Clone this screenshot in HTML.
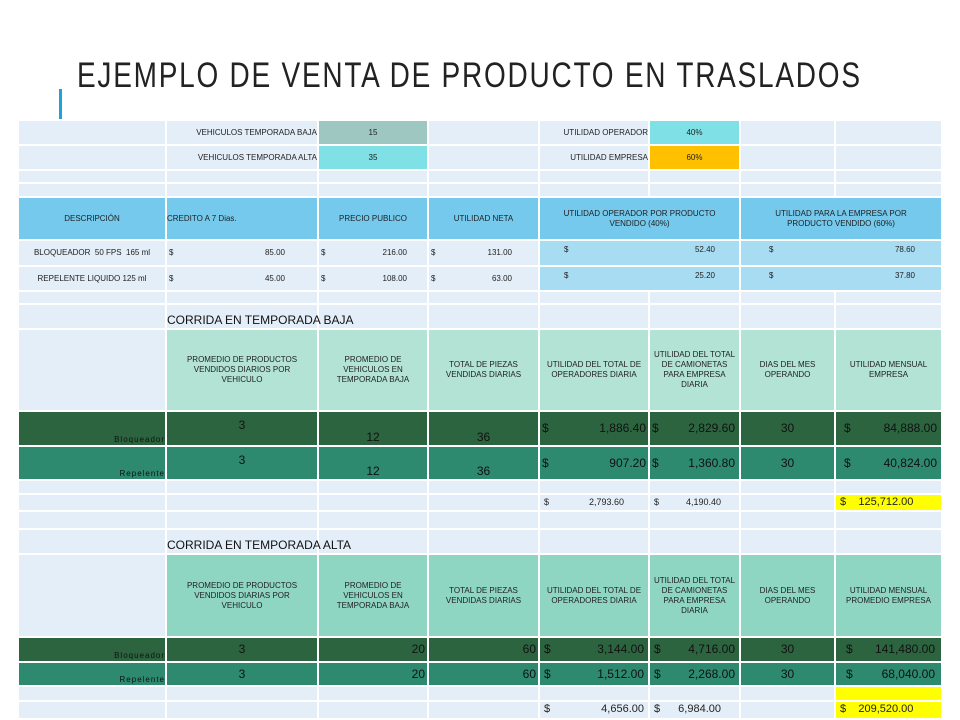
<!DOCTYPE html>
<html><head><meta charset="utf-8"><style>
*{box-sizing:border-box;margin:0;padding:0}
body{width:960px;height:720px;background:#fff;position:relative;overflow:hidden;font-family:"Liberation Sans",sans-serif}
#title{position:absolute;left:77px;top:56px;font-size:35px;letter-spacing:2.2px;color:#222;white-space:nowrap;transform:scaleX(0.8);transform-origin:left top}
#accent{position:absolute;left:59px;top:89px;width:3px;height:30px;background:#1ea3d9}
#sheet{position:absolute;left:19px;top:121px;width:922px;height:597px;background:#e4eef8}
#lines{position:absolute;left:0;top:0}
#grid{position:absolute;left:0;top:0;display:grid;gap:2px;
grid-template-columns:146px 150px 108px 109px 108px 89px 93px 105px;
grid-template-rows:23px 23px 11px 12px 41px 24px 23px 11px 23px 80px 33px 32px 12px 15px 16px 23px 81px 23px 22px 13px 16px}
.c{display:flex;align-items:center;justify-content:center;text-align:center;font-size:8px;color:#222;line-height:1.25;overflow:hidden;white-space:nowrap}
.r{justify-content:flex-end}
.w{white-space:normal}
.m{justify-content:space-between;padding:0 6px 0 2px}
.h1{background:#75c9ec}
.pb{background:#a8dcf2;align-items:flex-start;padding-top:4px}
.mint{background:#b2e3d5}
.mint2{background:#8ed6c1}
.dg{background:#2d6440;color:#111;font-size:12px}
.mg{background:#2e8a6f;color:#111;font-size:12px}
.yl{background:#ffff00}
.lbl{font-size:8px;align-items:flex-end;justify-content:flex-end;letter-spacing:1px}
.big{font-size:12px;color:#111;justify-content:flex-start;align-items:flex-end;padding-left:0}
</style></head><body>
<div id="title">EJEMPLO DE VENTA DE PRODUCTO EN TRASLADOS</div>
<div id="accent"></div>
<div id="sheet">
<svg id="lines" width="922" height="597"></svg>
<div id="grid">
<div class="c r" style="grid-area:1/2">VEHICULOS TEMPORADA BAJA</div>
<div class="c" style="grid-area:1/3;background:#9fc7c1">15</div>
<div class="c r" style="grid-area:1/5">UTILIDAD OPERADOR</div>
<div class="c" style="grid-area:1/6;background:#7fe0e6">40%</div>
<div class="c r" style="grid-area:2/2">VEHICULOS TEMPORADA ALTA</div>
<div class="c" style="grid-area:2/3;background:#7fe0e6">35</div>
<div class="c r" style="grid-area:2/5">UTILIDAD EMPRESA</div>
<div class="c" style="grid-area:2/6;background:#ffc000">60%</div>

<div class="c h1" style="grid-area:5/1">DESCRIPCIÓN</div>
<div class="c h1" style="grid-area:5/2;justify-content:flex-start">CREDITO A 7 Dias.</div>
<div class="c h1" style="grid-area:5/3">PRECIO PUBLICO</div>
<div class="c h1" style="grid-area:5/4">UTILIDAD NETA</div>
<div class="c h1 w" style="grid-area:5/5/6/7;padding:0 20px">UTILIDAD OPERADOR POR PRODUCTO VENDIDO (40%)</div>
<div class="c h1 w" style="grid-area:5/7/6/9;padding:0 20px">UTILIDAD PARA LA EMPRESA POR PRODUCTO VENDIDO (60%)</div>

<div class="c" style="grid-area:6/1">BLOQUEADOR&nbsp; 50 FPS&nbsp; 165 ml</div>
<div class="c m" style="grid-area:6/2;padding-right:32px"><span>$</span><span>85.00</span></div>
<div class="c m" style="grid-area:6/3;padding-right:20px"><span>$</span><span>216.00</span></div>
<div class="c m" style="grid-area:6/4;padding-right:26px"><span>$</span><span>131.00</span></div>
<div class="c m pb" style="grid-area:6/5/7/7;padding:4px 24px 0 24px"><span>$</span><span>52.40</span></div>
<div class="c m pb" style="grid-area:6/7/7/9;padding:4px 26px 0 28px"><span>$</span><span>78.60</span></div>
<div class="c" style="grid-area:7/1">REPELENTE LIQUIDO 125 ml</div>
<div class="c m" style="grid-area:7/2;padding-right:32px"><span>$</span><span>45.00</span></div>
<div class="c m" style="grid-area:7/3;padding-right:20px"><span>$</span><span>108.00</span></div>
<div class="c m" style="grid-area:7/4;padding-right:26px"><span>$</span><span>63.00</span></div>
<div class="c m pb" style="grid-area:7/5/8/7;padding:4px 24px 0 24px"><span>$</span><span>25.20</span></div>
<div class="c m pb" style="grid-area:7/7/8/9;padding:4px 26px 0 28px"><span>$</span><span>37.80</span></div>

<div class="c big" style="grid-area:9/2/10/5">CORRIDA EN TEMPORADA BAJA</div>
<div class="c mint w" style="grid-area:10/2;padding:0 12px">PROMEDIO DE PRODUCTOS VENDIDOS DIARIOS POR VEHICULO</div>
<div class="c mint w" style="grid-area:10/3;padding:0 8px">PROMEDIO DE VEHICULOS EN TEMPORADA BAJA</div>
<div class="c mint w" style="grid-area:10/4;padding:0 10px">TOTAL DE PIEZAS VENDIDAS DIARIAS</div>
<div class="c mint w" style="grid-area:10/5">UTILIDAD DEL TOTAL DE OPERADORES DIARIA</div>
<div class="c mint w" style="grid-area:10/6">UTILIDAD DEL TOTAL DE CAMIONETAS PARA EMPRESA DIARIA</div>
<div class="c mint w" style="grid-area:10/7;padding:0 14px">DIAS DEL MES OPERANDO</div>
<div class="c mint w" style="grid-area:10/8;padding:0 6px">UTILIDAD MENSUAL EMPRESA</div>

<div class="c dg lbl" style="grid-area:11/1">Bloqueador</div>
<div class="c dg" style="grid-area:11/2;align-items:flex-start;padding-top:6px">3</div>
<div class="c dg" style="grid-area:11/3;align-items:flex-end">12</div>
<div class="c dg" style="grid-area:11/4;align-items:flex-end">36</div>
<div class="c dg m" style="grid-area:11/5;padding-right:2px"><span>$</span><span>1,886.40</span></div>
<div class="c dg m" style="grid-area:11/6;padding-right:4px"><span>$</span><span>2,829.60</span></div>
<div class="c dg" style="grid-area:11/7">30</div>
<div class="c dg m" style="grid-area:11/8;padding:0 4px 0 8px"><span>$</span><span>84,888.00</span></div>
<div class="c mg lbl" style="grid-area:12/1">Repelente</div>
<div class="c mg" style="grid-area:12/2;align-items:flex-start;padding-top:6px">3</div>
<div class="c mg" style="grid-area:12/3;align-items:flex-end">12</div>
<div class="c mg" style="grid-area:12/4;align-items:flex-end">36</div>
<div class="c mg m" style="grid-area:12/5;padding-right:2px"><span>$</span><span>907.20</span></div>
<div class="c mg m" style="grid-area:12/6;padding-right:4px"><span>$</span><span>1,360.80</span></div>
<div class="c mg" style="grid-area:12/7">30</div>
<div class="c mg m" style="grid-area:12/8;padding:0 4px 0 8px"><span>$</span><span>40,824.00</span></div>

<div class="c m" style="grid-area:14/5;padding:0 24px 0 4px;font-size:9px"><span>$</span><span>2,793.60</span></div>
<div class="c m" style="grid-area:14/6;padding:0 18px 0 4px;font-size:9px"><span>$</span><span>4,190.40</span></div>
<div class="c yl" style="grid-area:14/8;justify-content:flex-start;padding-left:4px;font-size:11px">$&nbsp;&nbsp;&nbsp; 125,712.00</div>

<div class="c big" style="grid-area:16/2/17/5">CORRIDA EN TEMPORADA ALTA</div>
<div class="c mint2 w" style="grid-area:17/2;padding:0 12px">PROMEDIO DE PRODUCTOS VENDIDOS DIARIAS POR VEHICULO</div>
<div class="c mint2 w" style="grid-area:17/3;padding:0 8px">PROMEDIO DE VEHICULOS EN TEMPORADA BAJA</div>
<div class="c mint2 w" style="grid-area:17/4;padding:0 10px">TOTAL DE PIEZAS VENDIDAS DIARIAS</div>
<div class="c mint2 w" style="grid-area:17/5">UTILIDAD DEL TOTAL DE OPERADORES DIARIA</div>
<div class="c mint2 w" style="grid-area:17/6">UTILIDAD DEL TOTAL DE CAMIONETAS PARA EMPRESA DIARIA</div>
<div class="c mint2 w" style="grid-area:17/7;padding:0 14px">DIAS DEL MES OPERANDO</div>
<div class="c mint2 w" style="grid-area:17/8;padding:0 4px">UTILIDAD MENSUAL PROMEDIO EMPRESA</div>

<div class="c dg lbl" style="grid-area:18/1">Bloqueador</div>
<div class="c dg" style="grid-area:18/2">3</div>
<div class="c dg r" style="grid-area:18/3;padding-right:2px">20</div>
<div class="c dg r" style="grid-area:18/4;padding-right:2px">60</div>
<div class="c dg m" style="grid-area:18/5;padding:0 4px"><span>$</span><span>3,144.00</span></div>
<div class="c dg m" style="grid-area:18/6;padding:0 4px"><span>$</span><span>4,716.00</span></div>
<div class="c dg" style="grid-area:18/7">30</div>
<div class="c dg m" style="grid-area:18/8;padding:0 6px 0 10px"><span>$</span><span>141,480.00</span></div>
<div class="c mg lbl" style="grid-area:19/1">Repelente</div>
<div class="c mg" style="grid-area:19/2">3</div>
<div class="c mg r" style="grid-area:19/3;padding-right:2px">20</div>
<div class="c mg r" style="grid-area:19/4;padding-right:2px">60</div>
<div class="c mg m" style="grid-area:19/5;padding:0 4px"><span>$</span><span>1,512.00</span></div>
<div class="c mg m" style="grid-area:19/6;padding:0 4px"><span>$</span><span>2,268.00</span></div>
<div class="c mg" style="grid-area:19/7">30</div>
<div class="c mg m" style="grid-area:19/8;padding:0 6px 0 10px"><span>$</span><span>68,040.00</span></div>

<div class="c yl" style="grid-area:20/8"></div>
<div class="c m" style="grid-area:21/5;padding:0 4px;font-size:11px"><span>$</span><span>4,656.00</span></div>
<div class="c m" style="grid-area:21/6;padding:0 18px 0 4px;font-size:11px"><span>$</span><span>6,984.00</span></div>
<div class="c yl" style="grid-area:21/8;justify-content:flex-start;padding-left:4px;font-size:11px">$&nbsp;&nbsp;&nbsp; 209,520.00</div>
</div>
</div>
<script>
const colW=[148,152,110,111,110,91,95,105];
const rowH=[25,25,13,14,43,26,25,13,25,82,35,34,14,17,18,25,83,25,24,15,16];
const svg=document.getElementById('lines');
const NS='http://www.w3.org/2000/svg';
let x=0;
for(let i=0;i<colW.length-1;i++){x+=colW[i];
const r=document.createElementNS(NS,'rect');


r.setAttribute('x',x-2);r.setAttribute('y',0);r.setAttribute('width',2);r.setAttribute('height',597);r.setAttribute('fill','#fff');svg.appendChild(r);}
let y=0;
for(let i=0;i<rowH.length-1;i++){y+=rowH[i];
const r=document.createElementNS(NS,'rect');


r.setAttribute('x',0);r.setAttribute('y',y-2);r.setAttribute('width',922);r.setAttribute('height',2);r.setAttribute('fill','#fff');svg.appendChild(r);}
</script>
</body></html>
